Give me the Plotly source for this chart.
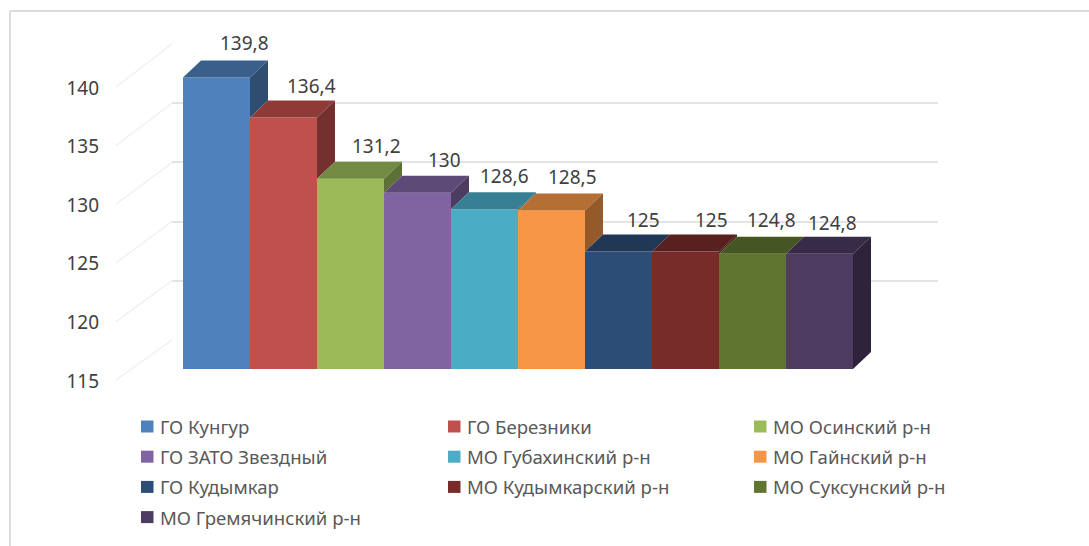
import plotly.graph_objects as go

categories = ["ГО Кунгур", "ГО Березники", "МО Осинский р-н", "ГО ЗАТО Звездный",
              "МО Губахинский р-н", "МО Гайнский р-н", "ГО Кудымкар",
              "МО Кудымкарский р-н", "МО Суксунский р-н", "МО Гремячинский р-н"]
values = [139.8, 136.4, 131.2, 130, 128.6, 128.5, 125, 125, 124.8, 124.8]
value_labels = ["139,8", "136,4", "131,2", "130", "128,6", "128,5", "125", "125", "124,8", "124,8"]
tick_values = [115, 120, 125, 130, 135, 140]
front_colors = ["#4F81BD", "#C0504D", "#9BBB59", "#8064A2", "#4BACC6",
                "#F79646", "#2C4D75", "#772C2A", "#5F7530", "#4D3B62"]
label_dx = [28, 28, 26, 27, 20, 21, 25, 26, 19, 13]
label_dy = [34.6, 31.5, 33, 33, 33, 33, 31.5, 31.5, 34, 31]

W, H = 1089, 546
BASE = 115
FONT = "Noto Sans"
SLOT, X0 = 67, 183            # bar width and left edge, px
FLOOR, PX_PER_UNIT = 369, 11.75
DX, DY = 18, 17               # fake 3D depth, px
BACK_Y = (340, 44)            # back wall: px of 115 and 140
TICK_Y = (381, 88)            # tick labels: px of 115 and 140
BACK_X = (172, 938)
WALL_X = 116


def shade(hex_color, f):
    r, g, b = (int(hex_color[i:i + 2], 16) for i in (1, 3, 5))
    return f"rgb({int(r * f)},{int(g * f)},{int(b * f)})"


def px(x):
    return x / W


def py(y):
    return 1 - y / H


depth_x = DX / SLOT
depth_v = DY / PX_PER_UNIT

fig = go.Figure()
# base subplot carrying the back-wall grid
fig.add_trace(go.Scatter(x=[0], y=[BASE], mode="markers", marker=dict(opacity=0),
                         hoverinfo="skip", showlegend=False))
# tick label axis
fig.add_trace(go.Scatter(x=[0], y=[BASE], xaxis="x2", yaxis="y3", mode="markers",
                         marker=dict(opacity=0), hoverinfo="skip", showlegend=False))
# front faces
fig.add_trace(go.Bar(x=list(range(len(values))), y=[v - BASE for v in values], base=BASE,
                     width=1, xaxis="x2", yaxis="y2", marker=dict(color=front_colors, line_width=0),
                     hovertext=categories, hoverinfo="text", showlegend=False))
# top and visible right side of each bar
for i, v in enumerate(values):
    right = i + 0.5
    left = i - 0.5
    nxt = values[i + 1] if i + 1 < len(values) else BASE
    fig.add_trace(go.Scatter(
        x=[left, left + depth_x, right + depth_x, right, left],
        y=[v, v + depth_v, v + depth_v, v, v],
        xaxis="x2", yaxis="y2", mode="lines", line_width=0, fill="toself",
        fillcolor=shade(front_colors[i], 0.74), hoverinfo="skip", showlegend=False))
    if nxt < v:
        fig.add_trace(go.Scatter(
            x=[right, right + depth_x, right + depth_x, right, right],
            y=[v, v + depth_v, nxt + depth_v, nxt, v],
            xaxis="x2", yaxis="y2", mode="lines", line_width=0, fill="toself",
            fillcolor=shade(front_colors[i], 0.6), hoverinfo="skip", showlegend=False))

annotations = []
for i, (v, t) in enumerate(zip(values, value_labels)):
    annotations.append(dict(x=i, y=v, xref="x2", yref="y2", text=t, showarrow=False,
                            xshift=label_dx[i], yshift=label_dy[i],
                            font=dict(family=FONT, size=19, color="#404040")))

FRAME = "#DCDCDC"
shapes = [
    dict(type="line", xref="paper", yref="paper", x0=px(10), x1=1, y0=py(11), y1=py(11),
         line=dict(color=FRAME, width=2), layer="below"),
    dict(type="line", xref="paper", yref="paper", x0=px(10), x1=px(10), y0=py(11), y1=0,
         line=dict(color=FRAME, width=2), layer="below"),
]
for t in tick_values:
    f = (t - BASE) / 25
    yb = BACK_Y[0] + (BACK_Y[1] - BACK_Y[0]) * f
    yt = TICK_Y[0] + (TICK_Y[1] - TICK_Y[0]) * f
    shapes.append(dict(type="line", xref="paper", yref="paper", x0=px(WALL_X), x1=px(BACK_X[0]),
                       y0=py(yt - 1), y1=py(yb), line=dict(color="#EFEFEF", width=1.2), layer="below"))

# legend, three columns
LEG_X = (141, 448, 754)
LEG_Y0, LEG_DY = 426.5, 30.2
for i, name in enumerate(categories):
    x = LEG_X[i % 3]
    y = LEG_Y0 + LEG_DY * (i // 3)
    shapes.append(dict(type="rect", xref="paper", yref="paper", x0=px(x), x1=px(x + 12.5),
                       y0=py(y - 6), y1=py(y + 6), fillcolor=front_colors[i], line_width=0))
    annotations.append(dict(x=px(x + 16.5), y=py(y), xref="paper", yref="paper", text=name,
                            showarrow=False, xanchor="left", yanchor="middle",
                            font=dict(family=FONT, size=18.6, color="#595959")))

hidden = dict(showgrid=False, zeroline=False, showticklabels=False, ticks="", showline=False, automargin=False)
fig.update_layout(
    width=W, height=H, margin=dict(l=0, r=0, t=0, b=0), autosize=False,
    paper_bgcolor="white", plot_bgcolor="rgba(0,0,0,0)", showlegend=False, barmode="overlay",
    font=dict(family=FONT, color="#404040"),
    xaxis=dict(domain=[px(BACK_X[0]), px(BACK_X[1])], range=[0, 1], anchor="y", **hidden),
    yaxis=dict(domain=[py(BACK_Y[0]), py(BACK_Y[1])], range=[BASE, 140], tickvals=tick_values, anchor="x",
               showgrid=True, gridcolor="#E4E4E4", gridwidth=1.5, zeroline=False, automargin=False,
               showticklabels=False, ticks="", showline=False),
    xaxis2=dict(domain=[0, 1], anchor="y2",
                range=[-X0 / SLOT - 0.5, (W - X0) / SLOT - 0.5], **hidden),
    yaxis2=dict(domain=[0, 1], anchor="x2",
                range=[BASE - (H - FLOOR) / PX_PER_UNIT, BASE + FLOOR / PX_PER_UNIT], **hidden),
    yaxis3=dict(domain=[py(TICK_Y[0]), py(TICK_Y[1])], anchor="free", position=px(99), automargin=False,
                side="left", range=[BASE, 140], tickvals=tick_values, showgrid=False, zeroline=False,
                ticks="", showline=False, tickfont=dict(family=FONT, size=19, color="#404040")),
    shapes=shapes, annotations=annotations,
)
fig.write_html("out.html", post_script="document.body.style.margin='0';",
               config=dict(displayModeBar=False))
